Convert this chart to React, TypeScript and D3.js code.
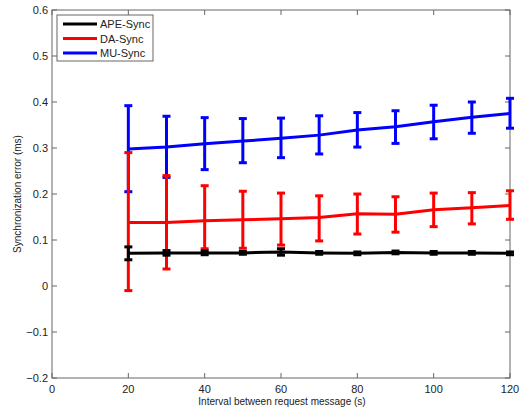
import React from "react";
import * as d3 from "d3";

const intervals = [20, 30, 40, 50, 60, 70, 80, 90, 100, 110, 120];

const apeMean = [0.071, 0.072, 0.072, 0.072, 0.074, 0.072, 0.071, 0.073, 0.072, 0.072, 0.071];
const apeErr = [0.014, 0.005, 0.004, 0.003, 0.007, 0.003, 0.003, 0.003, 0.003, 0.003, 0.003];

const daMean = [0.138, 0.138, 0.142, 0.144, 0.146, 0.149, 0.157, 0.156, 0.166, 0.170, 0.175];
const daUpper = [0.290, 0.240, 0.218, 0.206, 0.202, 0.196, 0.200, 0.194, 0.202, 0.203, 0.207];
const daLower = [-0.010, 0.037, 0.081, 0.082, 0.089, 0.098, 0.113, 0.117, 0.129, 0.135, 0.145];

const muMean = [0.298, 0.302, 0.309, 0.315, 0.321, 0.328, 0.339, 0.346, 0.357, 0.367, 0.375];
const muUpper = [0.392, 0.369, 0.366, 0.364, 0.365, 0.370, 0.377, 0.381, 0.393, 0.400, 0.408];
const muLower = [0.205, 0.236, 0.253, 0.268, 0.279, 0.287, 0.302, 0.310, 0.320, 0.332, 0.343];

const xTicks = [0, 20, 40, 60, 80, 100, 120];
const yTicks = [-0.2, -0.1, 0, 0.1, 0.2, 0.3, 0.4, 0.5, 0.6];

const seriesNames = ["APE-Sync", "DA-Sync", "MU-Sync"];
const seriesColors = ["#000000", "#ff0000", "#0000ff"];

export default function App() {
  const W = 526, H = 412;
  const left = 52, right = 510, top = 10, bottom = 378;
  const x = d3.scaleLinear().domain([0, 120]).range([left, right]);
  const y = d3.scaleLinear().domain([-0.2, 0.6]).range([bottom, top]);
  const line = d3.line<number>().x((_, i) => x(intervals[i])).y((v) => y(v));

  const series = [
    { mean: apeMean, up: apeMean.map((m, i) => m + apeErr[i]), lo: apeMean.map((m, i) => m - apeErr[i]) },
    { mean: daMean, up: daUpper, lo: daLower },
    { mean: muMean, up: muUpper, lo: muLower },
  ];
  const font = "Liberation Sans, Arial, sans-serif";
  const axisColor = "#666";
  const tickLen = 5;
  const capW = 4;

  return (
    <svg width={W} height={H} style={{ position: "absolute", left: 0, top: 0 }}>
      <rect x={0} y={0} width={W} height={H} fill="#fff" />
      <rect x={left} y={top} width={right - left} height={bottom - top} fill="none" stroke={axisColor} strokeWidth={1} />
      {xTicks.map((t) => (
        <g key={"xt" + t}>
          <line x1={x(t)} x2={x(t)} y1={bottom} y2={bottom - tickLen} stroke={axisColor} />
          <line x1={x(t)} x2={x(t)} y1={top} y2={top + tickLen} stroke={axisColor} />
          <text x={x(t)} y={bottom + 15} textAnchor="middle" fontFamily={font} fontSize={11} fill="#222">
            {t}
          </text>
        </g>
      ))}
      {yTicks.map((t) => (
        <g key={"yt" + t}>
          <line x1={left} x2={left + tickLen} y1={y(t)} y2={y(t)} stroke={axisColor} />
          <line x1={right} x2={right - tickLen} y1={y(t)} y2={y(t)} stroke={axisColor} />
          <text x={left - 4} y={y(t) + 4} textAnchor="end" fontFamily={font} fontSize={11} fill="#222">
            {d3.format("")(Math.round(t * 10) / 10)}
          </text>
        </g>
      ))}
      <text x={(left + right) / 2 + 1} y={405} textAnchor="middle" fontFamily={font} fontSize={10} fill="#222">
        Interval between request message (s)
      </text>
      <text
        transform={`translate(21,${(top + bottom) / 2}) rotate(-90)`}
        textAnchor="middle"
        fontFamily={font}
        fontSize={10}
        fill="#222"
      >
        Synchronization error (ms)
      </text>
      {[2, 1, 0].map((si) => {
        const s = series[si];
        const c = seriesColors[si];
        return (
          <g key={"s" + si}>
            <path d={line(s.mean) || ""} fill="none" stroke={c} strokeWidth={3} />
            {intervals.map((iv, i) => (
              <g key={i} stroke={c} strokeWidth={3}>
                <line x1={x(iv)} x2={x(iv)} y1={y(s.lo[i])} y2={y(s.up[i])} />
                <line x1={x(iv) - capW} x2={x(iv) + capW} y1={y(s.up[i])} y2={y(s.up[i])} />
                <line x1={x(iv) - capW} x2={x(iv) + capW} y1={y(s.lo[i])} y2={y(s.lo[i])} />
              </g>
            ))}
          </g>
        );
      })}
      <g>
        <rect x={57} y={15} width={96} height={46} fill="#fff" stroke={axisColor} strokeWidth={1} />
        {seriesNames.map((n, i) => (
          <g key={n}>
            <line x1={63} x2={97} y1={24 + i * 14.5} y2={24 + i * 14.5} stroke={seriesColors[i]} strokeWidth={3} />
            <text x={100} y={24 + i * 14.5 + 4} fontFamily={font} fontSize={11} fill="#222">
              {n}
            </text>
          </g>
        ))}
      </g>
    </svg>
  );
}
